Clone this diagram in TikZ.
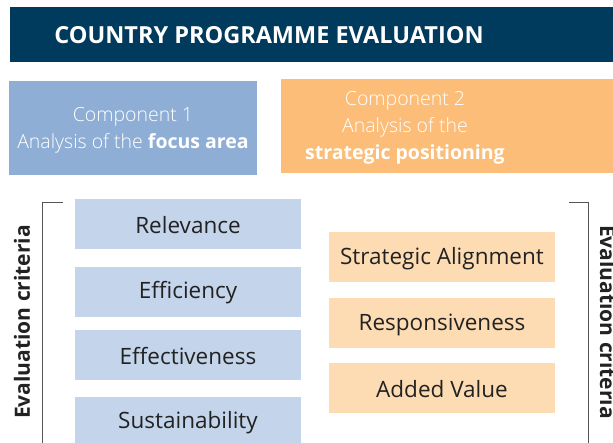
\documentclass[tikz,border=0pt]{standalone}
\usepackage{fontspec}
\setmainfont{Open Sans}
\IfFontExistsTF{Open Sans Light}{\newfontfamily\lightfont{Open Sans Light}}{\newfontfamily\lightfont{Open Sans}}
\definecolor{navy}{RGB}{0,58,92}
\definecolor{compA}{RGB}{143,174,214}
\definecolor{compB}{RGB}{251,189,119}
\definecolor{critA}{RGB}{196,212,234}
\definecolor{critB}{RGB}{253,220,179}
\definecolor{txt}{RGB}{34,34,34}
\definecolor{brk}{RGB}{85,85,85}
\begin{document}
\begin{tikzpicture}[x=1pt,y=-1pt,
  crit/.style={text=txt,font=\fontsize{22.5}{26}\selectfont},
  comp/.style={text=white,font=\lightfont\fontsize{19.5}{27}\selectfont,align=center},
  brack/.style={draw=brk,line width=1pt},
  vlabel/.style={text=txt,font=\bfseries\fontsize{21}{24}\selectfont}]
\useasboundingbox (0,0) rectangle (613,442);
% title
\fill[navy] (10,7) rectangle (620,62);
\node[text=white,font=\bfseries\fontsize{23.5}{28}\selectfont] (title) at (269,35) {COUNTRY PROGRAMME EVALUATION};
% components
\fill[compA] (9,81) rectangle (257,175);
\node[comp] (c1) at (133,130) {Component 1\\Analysis of the {\normalfont\bfseries focus area}};
\fill[compB] (281,79) rectangle (620,173);
\node[comp] (c2) at (405,128) {Component 2\\Analysis of the\\{\normalfont\bfseries strategic positioning}};
% left criteria
\fill[critA] (75,199) rectangle (301,249);
\fill[critA] (75,267) rectangle (301,317);
\fill[critA] (75,330) rectangle (301,380);
\fill[critA] (75,397) rectangle (301,450);
\node[crit] (rel) at (188,225) {Relevance};
\node[crit] (eff) at (188,293) {Efficiency};
\node[crit] (effe) at (188,356) {Effectiveness};
\node[crit] (sus) at (188,423) {Sustainability};
% right criteria
\fill[critB] (329,232) rectangle (555,282);
\fill[critB] (329,298) rectangle (555,348);
\fill[critB] (329,363) rectangle (555,413);
\node[crit] (sa) at (442,258.5) {Strategic Alignment};
\node[crit] (resp) at (442,324.5) {Responsiveness};
\node[crit] (av) at (442,389.5) {Added Value};
% brackets
\draw[brack] (63,202) -- (42,202) -- (42,450);
\draw[brack] (569,202) -- (588,202) -- (588,450);
\node[vlabel,rotate=90] (elL) at (22,322) {Evaluation criteria};
\node[vlabel,rotate=-90] (elR) at (608,322) {Evaluation criteria};
\end{tikzpicture}
\end{document}
